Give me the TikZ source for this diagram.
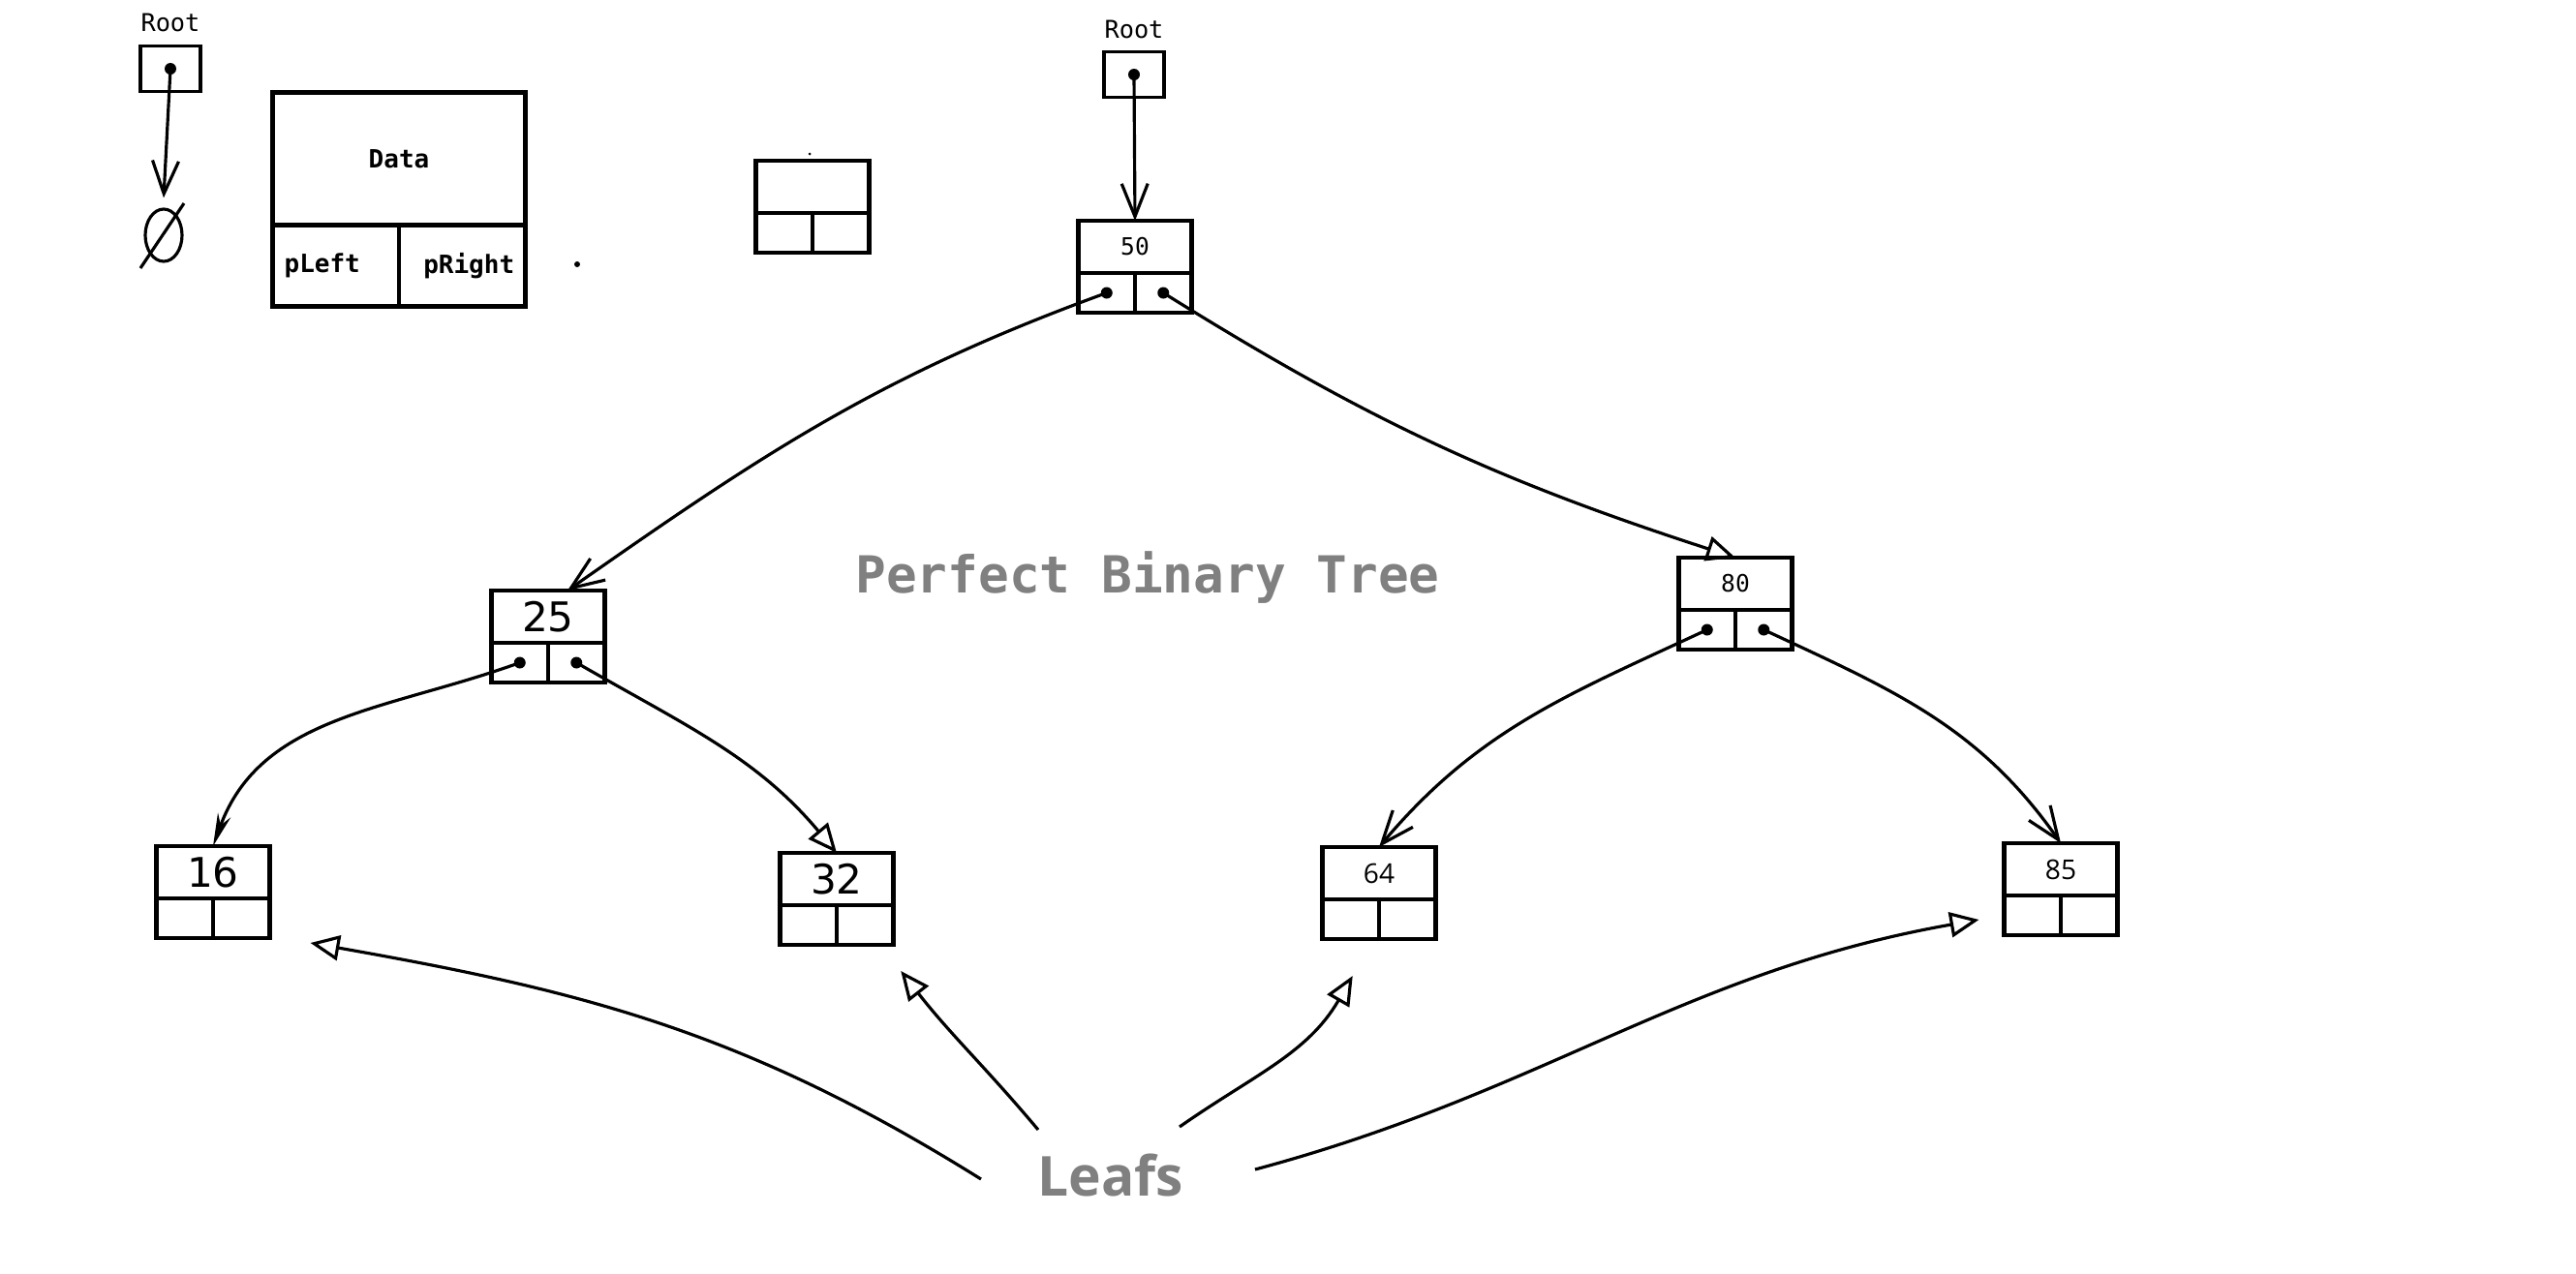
\documentclass[tikz,border=0pt]{standalone}
\usepackage{fontspec}
\usetikzlibrary{arrows.meta,positioning,shapes.geometric}
\newfontfamily\codefont{DejaVu Sans Mono}
\newfontfamily\uifont{Open Sans}
\newfontfamily\handfont{DejaVu Sans}
\definecolor{figGray}{RGB}{128,128,128}

% one tree node: data cell on top, two pointer cells below
\newcommand{\bstnode}[4]{%
  \node[datacell,font=#4] (#1) at (#2) {#3};
  \node[ptrcell,anchor=north east] (#1l) at (#1.south) {};
  \node[ptrcell,anchor=north west] (#1r) at (#1.south) {};
}

\begin{document}
\begin{tikzpicture}[
  datacell/.style={draw,line width=1.4pt,minimum width=1.17cm,minimum height=0.54cm,inner sep=0pt,outer sep=0pt},
  ptrcell/.style={draw,line width=1.4pt,minimum width=0.585cm,minimum height=0.41cm,inner sep=0pt,outer sep=0pt},
  bigcell/.style={datacell,minimum width=2.61cm,minimum height=1.365cm,font=\codefont\bfseries\fontsize{7.4}{9}\selectfont},
  bigptr/.style={ptrcell,minimum width=1.305cm,minimum height=0.845cm,font=\codefont\bfseries\fontsize{7.4}{9}\selectfont},
  rootbox/.style={draw,line width=0.9pt,minimum width=0.62cm,minimum height=0.47cm,inner sep=0pt},
  rootlbl/.style={font=\codefont\fontsize{7.2}{8}\selectfont,inner sep=0pt},
  link/.style={line width=0.9pt},
  barb/.style={-{Straight Barb[length=3.4mm,width=2.7mm]}},
  tri/.style={-{Triangle[open,length=3mm,width=2.6mm]}},
  caption/.style={text=figGray,anchor=base,inner sep=0pt}]
\useasboundingbox (0,0) rectangle (26.6,-13.16);

% legend: root pointer to null
\node[rootbox] (rb1) at (1.76,-0.71) {};
\node[rootlbl,above=0.12cm of rb1] (root1) {Root};
\node[draw,ellipse,line width=0.9pt,minimum width=0.38cm,minimum height=0.54cm,inner sep=0pt] (nullsym) at (1.69,-2.43) {};
\draw[line width=0.9pt] ([shift={(-0.24,-0.34)}]nullsym.center) -- ([shift={(0.21,0.33)}]nullsym.center);
\fill (rb1.center) circle (0.06);
\draw[link,barb] (rb1.center) -- ([yshift=0.1cm]nullsym.north);

% legend: node layout
\node[bigcell] (legend) at (4.12,-1.64) {Data};
\node[bigptr,anchor=north east] (legendl) at (legend.south) {\hspace*{-0.28cm}pLeft};
\node[bigptr,anchor=north west] (legendr) at (legend.south) {pRight\hspace*{-0.14cm}};
\fill (5.96,-2.73) circle (0.03);
\bstnode{blank}{8.39,-1.93}{}{}
\fill (8.36,-1.59) circle (0.015);

% the tree
\node[rootbox] (rb2) at (11.71,-0.77) {};
\node[rootlbl,above=0.11cm of rb2] (root2) {Root};
\bstnode{n50}{11.72,-2.55}{50}{\codefont\fontsize{7}{8}\selectfont}
\bstnode{n25}{5.66,-6.37}{25}{\handfont\fontsize{12}{14}\selectfont}
\bstnode{n80}{17.92,-6.03}{80}{\codefont\fontsize{7}{8}\selectfont}
\bstnode{n16}{2.20,-9.01}{16}{\handfont\fontsize{12}{14}\selectfont}
\bstnode{n32}{8.64,-9.08}{32}{\handfont\fontsize{12}{14}\selectfont}
\bstnode{n64}{14.24,-9.02}{64}{\uifont\fontsize{8}{10}\selectfont}
\bstnode{n85}{21.28,-8.98}{85}{\uifont\fontsize{8}{10}\selectfont}

\foreach \p in {rb2,n50l,n50r,n25l,n25r,n80l,n80r}
  \fill (\p.center) circle (0.06);

\draw[link,barb] (rb2.center) -- (n50.north);
\draw[link,barb] (n50l.center) to[out=200,in=35] ([xshift=0.2cm]n25.north);
\draw[link,tri] (n50r.center) to[out=-32,in=162] (n80.north);
\draw[link,-{Stealth[length=3.4mm,width=1.4mm]}] (n25l.center) to[out=200,in=70] (n16.north);
\draw[link,tri] (n25r.center) to[out=-30,in=130] (n32.north);
\draw[link,barb] (n80l.center) to[out=205,in=50] (n64.north);
\draw[link,barb] (n80r.center) to[out=-25,in=125] (n85.north);

% captions
\node[caption,font=\codefont\bfseries\fontsize{15}{18}\selectfont] (title) at (11.85,-6.12) {Perfect Binary Tree};
\node[caption,font=\uifont\bfseries\fontsize{16.2}{19}\selectfont] (leafs) at (11.47,-12.35) {Leafs};

\draw[link,tri] ([shift={(-1.34,0.17)}]leafs.base) to[out=148,in=-10] ([shift={(0.42,-0.05)}]n16r.south east);
\draw[link,tri] ([shift={(-0.75,0.68)}]leafs.base) to[out=130,in=-52] ([shift={(0.37,-0.27)}]n32r.south);
\draw[link,tri] ([shift={(0.71,0.71)}]leafs.base) to[out=35,in=-120] ([shift={(0.02,-0.38)}]n64l.south);
\draw[link,tri] ([shift={(1.49,0.27)}]leafs.base) to[out=15,in=190] ([shift={(-0.26,0.16)}]n85l.south west);
\end{tikzpicture}
\end{document}
